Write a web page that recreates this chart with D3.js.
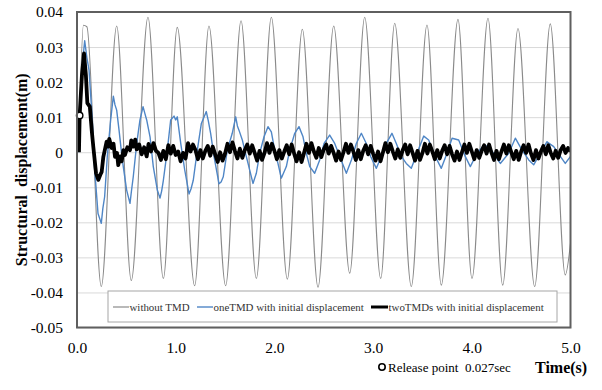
<!DOCTYPE html>
<html><head><meta charset="utf-8">
<script src="https://cdn.jsdelivr.net/npm/d3@7"></script>
<style>
html,body{margin:0;padding:0;background:#fff;}
svg{display:block;}
svg text{font-family:"Liberation Serif","Tinos","Nimbus Roman","Times New Roman","DejaVu Serif",serif;}
</style></head>
<body>
<svg id="chart" width="602" height="390"></svg>
<script>
// ---- data ----
const xTickValues = [0, 1, 2, 3, 4, 5];
const yTickValues = [-0.05, -0.04, -0.03, -0.02, -0.01, 0, 0.01, 0.02, 0.03, 0.04];
const seriesNames = ["without TMD", "oneTMD with initial displacement", "twoTMDs with initial displacement"];
const releasePoint = [0.027, 0.0105];
const releaseLabel = "Release point  0.027sec";
const xTitle = "Time(s)";
const yTitle = "Structural  displacement(m)";

// without TMD: [time (s), displacement (m)] at extrema
const withoutTMD = [
 [0.027,0.0105],[0.065,0.0362],[0.1,0.0358],[0.246,-0.0383],[0.402,0.036],[0.55,-0.0366],
 [0.719,0.0385],[0.875,-0.036],[1.016,0.0356],[1.192,-0.0381],[1.337,0.036],[1.506,-0.0381],
 [1.662,0.0375],[1.817,-0.036],[1.969,0.0385],[2.131,-0.0362],[2.283,0.0351],[2.442,-0.0385],
 [2.601,0.036],[2.763,-0.0345],[2.915,0.0385],[3.077,-0.036],[3.219,0.0368],[3.387,-0.0383],
 [3.546,0.0363],[3.691,-0.0379],[3.86,0.0379],[4.002,-0.036],[4.164,0.0382],[4.313,-0.0379],
 [4.468,0.0353],[4.637,-0.0383],[4.795,0.0366],[4.947,-0.035],[5.0,-0.026]
];

// oneTMD with initial displacement
const oneTMD = [
 [0.02,0],[0.027,0.0105],[0.05,0.024],[0.078,0.0318],[0.1,0.027],[0.122,0.0234],[0.155,0.0092],
 [0.179,-0.005],[0.213,-0.0175],[0.246,-0.0203],[0.262,-0.016],[0.28,-0.0127],[0.307,-0.0012],
 [0.341,0.0092],[0.368,0.016],[0.385,0.0135],[0.402,0.012],[0.426,0.0063],[0.459,-0.0022],
 [0.503,-0.0108],[0.537,-0.0146],[0.552,-0.011],[0.57,-0.007],[0.605,0.0025],[0.638,0.0092],
 [0.669,0.013],[0.688,0.011],[0.706,0.0092],[0.74,0.0044],[0.773,-0.0041],[0.814,-0.0108],
 [0.841,-0.0131],[0.858,-0.011],[0.875,-0.008],[0.915,0.0006],[0.949,0.0092],[0.983,0.0103],
 [1.0,0.0092],[1.016,0.0101],[1.051,0.0025],[1.091,-0.005],[1.135,-0.0119],[1.155,-0.0105],
 [1.178,-0.008],[1.219,0.0006],[1.26,0.0082],[1.31,0.0116],[1.33,0.009],[1.354,0.0054],
 [1.388,-0.0012],[1.439,-0.009],[1.46,-0.0085],[1.482,-0.007],[1.523,0.0006],[1.573,0.0054],
 [1.608,0.0101],[1.625,0.0075],[1.641,0.0063],[1.675,0.0035],[1.699,0.0006],[1.733,-0.0032],
 [1.783,-0.0089],[1.817,-0.006],[1.851,-0.0003],[1.895,0.0044],[1.935,0.0073],[1.969,0.0058],
 [2.003,0.0006],[2.036,-0.0032],[2.07,-0.0074],[2.121,-0.0041],[2.155,0.0006],[2.206,0.0054],
 [2.249,0.0073],[2.29,0.0044],[2.323,-0.0003],[2.358,-0.0041],[2.408,-0.006],[2.459,-0.0022],
 [2.503,0.0025],[2.56,0.0049],[2.611,0.0025],[2.662,-0.0012],[2.729,-0.006],[2.78,-0.0022],
 [2.83,0.0025],[2.881,0.0054],[2.931,0.0025],[2.975,-0.0012],[3.033,-0.0046],[3.083,-0.0012],
 [3.134,0.0025],[3.191,0.0054],[3.235,0.0025],[3.286,-0.0012],[3.336,-0.0032],[3.387,-0.0046],
 [3.445,-0.0003],[3.513,0.0046],[3.563,0.0035],[3.63,-0.0012],[3.691,-0.0046],[3.749,-0.0003],
 [3.8,0.004],[3.867,0.0035],[3.934,-0.0012],[3.985,-0.0041],[4.053,-0.0003],[4.121,0.002],
 [4.178,0.0016],[4.238,-0.0012],[4.289,-0.0032],[4.374,-0.0003],[4.441,0.004],[4.509,0.0006],
 [4.577,-0.0022],[4.627,-0.0036],[4.694,-0.0003],[4.762,0.003],[4.83,0.0016],[4.897,-0.0012],
 [4.947,-0.0032],[5.0,-0.0012]
];

// twoTMDs with initial displacement: transient part
const twoTMDsStart = [
 [0.02,0],[0.027,0.0105],[0.05,0.022],[0.071,0.0282],[0.09,0.022],[0.105,0.014],[0.13,0.013],
 [0.15,0.006],[0.165,0.0016],[0.193,-0.006],[0.216,-0.0079],[0.235,-0.0065],[0.25,-0.0056],
 [0.267,-0.0013],[0.3,0.003],[0.315,0.0016],[0.327,0.0038],[0.351,0.0012],[0.37,0.0024],
 [0.385,-0.0013],[0.405,-0.0002],[0.418,-0.0037],[0.435,-0.0012],[0.453,-0.0026],[0.47,0.0006],
 [0.486,-0.0008],[0.51,0.0014],[0.537,0.0006],[0.55,0.0034],[0.57,0.0016],[0.59,0.0036],
 [0.605,0.0008],[0.63,0.0022],[0.655,-0.0006],[0.68,0.0014],[0.706,-0.0012]
];
// twoTMDs: remaining samples, every 0.025 s from 0.725 s to 5.0 s
const twoTMDsTailStart = 0.725, twoTMDsTailStep = 0.025;
const twoTMDsTail = [
 0.0024, 0.0002, 0.0026, 0.0004, -0.0002, -0.0022, 0.0004, -0.0020,
 0.0020, -0.0004, 0.0018, -0.0008, 0.0002, -0.0026, -0.0002, -0.0018,
 0.0026, 0.0002, 0.0022, 0.0006, -0.0020, 0.0006, -0.0018, 0.0004,
 0.0018, -0.0010, 0.0016, -0.0006, -0.0028, 0.0000, -0.0024, -0.0004,
 0.0024, 0.0000, 0.0028, 0.0004, -0.0018, 0.0010, -0.0016, 0.0006,
 0.0022, -0.0004, 0.0020, -0.0002, -0.0024, 0.0004, -0.0022, -0.0002,
 0.0026, -0.0002, 0.0024, 0.0004, -0.0020, 0.0006, -0.0018, 0.0002,
 0.0020, -0.0006, 0.0022, -0.0004, -0.0026, 0.0000, -0.0028, -0.0002,
 0.0024, -0.0002, 0.0026, 0.0002, -0.0016, 0.0012, -0.0014, 0.0008,
 0.0022, -0.0004, 0.0018, -0.0002, -0.0024, 0.0002, -0.0022, 0.0000,
 0.0024, -0.0002, 0.0022, 0.0002, -0.0022, 0.0006, -0.0020, 0.0004,
 0.0020, -0.0006, 0.0018, -0.0004, -0.0024, 0.0002, -0.0026, 0.0000,
 0.0026, 0.0000, 0.0024, 0.0002, -0.0018, 0.0008, -0.0016, 0.0006,
 0.0022, -0.0006, 0.0020, -0.0002, -0.0024, 0.0004, -0.0022, -0.0002,
 0.0024, -0.0004, 0.0022, 0.0002, -0.0020, 0.0006, -0.0018, 0.0004,
 0.0020, -0.0006, 0.0018, -0.0006, -0.0024, 0.0002, -0.0022, 0.0000,
 0.0022, -0.0002, 0.0024, 0.0002, -0.0020, 0.0006, -0.0016, 0.0004,
 0.0020, -0.0004, 0.0022, -0.0002, -0.0022, 0.0004, -0.0020, 0.0002,
 0.0022, -0.0004, 0.0020, 0.0000, -0.0020, 0.0004, -0.0022, 0.0002,
 0.0020, -0.0002, 0.0022, -0.0004, -0.0022, 0.0006, -0.0018, 0.0002,
 0.0018, -0.0006, 0.0020, -0.0002, -0.0018, 0.0004, -0.0016, 0.0006,
 0.0018, -0.0002, 0.0012, 0.0002
];

// ---- drawing ----
const svg = d3.select("#chart");
const L = 77, R = 570.5, T = 12, B = 327.5;
const x = d3.scaleLinear().domain([0, 5]).range([L, R]);
const y = d3.scaleLinear().domain([-0.05, 0.04]).range([B, T]);

// gridlines
svg.append("g").attr("transform", `translate(${L},0)`)
  .call(d3.axisLeft(y).tickValues(yTickValues).tickSize(-(R - L)).tickFormat(""))
  .call(g => g.select(".domain").remove())
  .call(g => g.selectAll("line").attr("stroke", "#d9d9d9").attr("stroke-width", 1));

// y tick labels
const fmtY = d => d === 0 ? "0" : d.toFixed(2);
svg.append("g").attr("transform", `translate(${L},0)`)
  .call(d3.axisLeft(y).tickValues(yTickValues).tickSize(0).tickPadding(14).tickFormat(fmtY))
  .call(g => g.select(".domain").remove())
  .call(g => g.attr("font-family", null).selectAll("text").attr("font-size", 15.5).attr("fill", "#000"));

// x tick labels
svg.append("g").attr("transform", `translate(0,${B})`)
  .call(d3.axisBottom(x).tickValues(xTickValues).tickSize(0).tickPadding(14).tickFormat(d3.format(".1f")))
  .call(g => g.select(".domain").remove())
  .call(g => g.attr("font-family", null).selectAll("text").attr("font-size", 15.5).attr("fill", "#000"));

// clip
svg.append("clipPath").attr("id", "plotclip").append("rect")
  .attr("x", L).attr("y", T).attr("width", R - L).attr("height", B - T);

const plot = svg.append("g").attr("clip-path", "url(#plotclip)");

const smoothLine = d3.line().x(d => x(d[0])).y(d => y(d[1])).curve(d3.curveMonotoneX);
const straightLine = d3.line().x(d => x(d[0])).y(d => y(d[1]));

plot.append("path").datum(withoutTMD).attr("d", smoothLine)
  .attr("fill", "none").attr("stroke", "#8a8a8a").attr("stroke-width", 1.1);

plot.append("path").datum(oneTMD).attr("d", straightLine)
  .attr("fill", "none").attr("stroke", "#4f86c6").attr("stroke-width", 1.4).attr("stroke-linejoin", "round");

const twoTMDs = twoTMDsStart.concat(twoTMDsTail.map((v, i) => [twoTMDsTailStart + i * twoTMDsTailStep, v]));
plot.append("path").datum(twoTMDs).attr("d", straightLine)
  .attr("fill", "none").attr("stroke", "#000").attr("stroke-width", 3.8).attr("stroke-linejoin", "round");

// release point
svg.append("circle").attr("cx", x(releasePoint[0])).attr("cy", y(releasePoint[1])).attr("r", 3.2)
  .attr("fill", "#fff").attr("stroke", "#000").attr("stroke-width", 1.4);

// plot frame
svg.append("rect").attr("x", L).attr("y", T).attr("width", R - L).attr("height", B - T)
  .attr("fill", "none").attr("stroke", "#5f5f5f").attr("stroke-width", 2);

// legend
const lg = svg.append("g");
lg.append("rect").attr("x", 108).attr("y", 291).attr("width", 449).attr("height", 31)
  .attr("fill", "#fff").attr("stroke", "#a6a6a6").attr("stroke-width", 1);
const legendItems = [
  {name: seriesNames[0], x1: 113, x2: 129, color: "#8a8a8a", w: 1.2},
  {name: seriesNames[1], x1: 197, x2: 213, color: "#4f86c6", w: 1.4},
  {name: seriesNames[2], x1: 371, x2: 388, color: "#000", w: 3}
];
legendItems.forEach(it => {
  lg.append("line").attr("x1", it.x1).attr("x2", it.x2).attr("y1", 307).attr("y2", 307)
    .attr("stroke", it.color).attr("stroke-width", it.w);
  lg.append("text").attr("x", it.x2 + 0.5).attr("y", 311)
    .attr("font-size", 10.9).attr("fill", "#333").text(it.name);
});

// release point legend
svg.append("circle").attr("cx", 382).attr("cy", 367).attr("r", 3.2)
  .attr("fill", "#fff").attr("stroke", "#000").attr("stroke-width", 1.6);
svg.append("text").attr("x", 388).attr("y", 371.5)
  .attr("font-size", 13).attr("fill", "#000").style("white-space", "pre").text(releaseLabel);

// axis titles
svg.append("text").attr("x", 535).attr("y", 373)
  .attr("font-size", 16).attr("font-weight", "bold").attr("fill", "#000").text(xTitle);
svg.append("text").attr("transform", `translate(27,${(T + B) / 2}) rotate(-90)`)
  .attr("text-anchor", "middle")
  .attr("font-size", 16).attr("font-weight", "bold").attr("fill", "#000")
  .style("white-space", "pre").text(yTitle);
</script>
</body></html>
